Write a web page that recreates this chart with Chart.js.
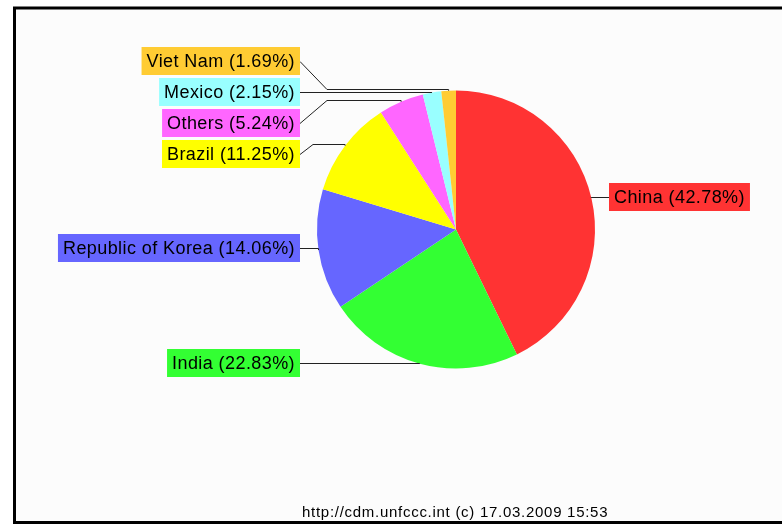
<!DOCTYPE html>
<html>
<head>
<meta charset="utf-8">
<script src="https://cdn.jsdelivr.net/npm/chart.js@4/dist/chart.umd.min.js"></script>
<style>
  html, body { margin: 0; padding: 0; background: #ffffff; }
  #wrap { width: 782px; height: 526px; }
</style>
</head>
<body>
<div id="wrap"><canvas id="c" width="782" height="526"></canvas></div>
<script>
// ---- Data ----
const categories = ["China", "India", "Republic of Korea", "Brazil", "Others", "Mexico", "Viet Nam"];
const shares = [42.78, 22.83, 14.06, 11.25, 5.24, 2.15, 1.69];
const sliceColors = ["#ff3333", "#33ff33", "#6666ff", "#ffff00", "#ff66ff", "#99ffff", "#ffcc33"];
const footerText = "http://cdm.unfccc.int (c) 17.03.2009 15:53";

// ---- Label layout (positions only) ----
// side: which side the box sits; y: box centre; elbowX: x of the bend (null = straight); mode: anchor rule
const labelLayout = [
  { side: "right", y: 197, elbowX: null, mode: "level" },
  { side: "left",  y: 363, elbowX: null, mode: "mid" },
  { side: "left",  y: 248, elbowX: null, mode: "mid" },
  { side: "left",  y: 154, elbowX: 313,  mode: "mid" },
  { side: "left",  y: 123, elbowX: 327,  mode: "mid" },
  { side: "left",  y: 92,  elbowX: null, mode: "mid" },
  { side: "left",  y: 61,  elbowX: 327,  mode: "mid" }
];
const LEFT_EDGE = 300, RIGHT_EDGE = 609;

const framePlugin = {
  id: "frame",
  beforeDraw(chart) {
    const ctx = chart.ctx;
    ctx.save();
    ctx.fillStyle = "#ffffff";
    ctx.fillRect(0, 0, chart.width, chart.height);
    ctx.fillStyle = "#fcfcfc";
    ctx.fillRect(14.5, 8, 800, 514.5);
    ctx.strokeStyle = "#000000";
    ctx.lineWidth = 3;
    ctx.strokeRect(14.5, 8, 800, 514.5);
    ctx.restore();
  },
  afterDraw(chart) {
    const ctx = chart.ctx;
    const meta = chart.getDatasetMeta(0);
    ctx.save();
    ctx.font = "18px 'Liberation Sans', Arial, sans-serif";
    ctx.letterSpacing = "0.42px";
    ctx.textBaseline = "middle";
    meta.data.forEach((arc, i) => {
      const L = labelLayout[i];
      const r = arc.outerRadius;
      let ax, ay;
      if (L.mode === "level") {
        const dy = L.y - arc.y;
        ay = L.y;
        ax = arc.x + (L.side === "right" ? 1 : -1) * Math.sqrt(Math.max(r * r - dy * dy, 0));
      } else {
        const mid = (arc.startAngle + arc.endAngle) / 2;
        ax = arc.x + r * Math.cos(mid);
        ay = arc.y + r * Math.sin(mid);
      }
      const text = categories[i] + " (" + shares[i].toFixed(2) + "%)";
      const tw = ctx.measureText(text).width;
      const pad = 5, h = 28;
      let bx;
      if (L.side === "left") bx = LEFT_EDGE - tw - 2 * pad; else bx = RIGHT_EDGE;
      const edgeX = L.side === "left" ? LEFT_EDGE : RIGHT_EDGE;

      // connector line
      ctx.strokeStyle = "#222222";
      ctx.lineWidth = 1;
      ctx.beginPath();
      ctx.moveTo(edgeX, L.y + 0.5);
      if (L.elbowX !== null) {
        const ly = Math.round(ay) - 1.5;
        ctx.lineTo(L.elbowX, ly);
        ctx.lineTo(ax, ly);
        ctx.lineTo(ax, ay);
      } else {
        ctx.lineTo(ax, L.y + 0.5);
        ctx.lineTo(ax, ay);
      }
      ctx.stroke();

      // label box
      ctx.fillStyle = sliceColors[i];
      ctx.fillRect(bx, L.y - h / 2, tw + 2 * pad, h);
      ctx.fillStyle = "#000000";
      ctx.textAlign = "left";
      ctx.fillText(text, bx + pad, L.y + 1);
    });
    // footer
    ctx.font = "15px 'Liberation Sans', Arial, sans-serif";
    ctx.letterSpacing = "0.72px";
    ctx.textAlign = "left";
    ctx.fillStyle = "#000000";
    ctx.fillText(footerText, 302, 513);
    ctx.restore();
  }
};

new Chart(document.getElementById("c"), {
  type: "pie",
  data: {
    labels: categories,
    datasets: [{
      data: shares,
      backgroundColor: sliceColors,
      borderWidth: 0,
      hoverOffset: 0
    }]
  },
  options: {
    responsive: false,
    animation: false,
    layout: { padding: { top: 90, bottom: 157, left: 317, right: 187 } },
    plugins: { legend: { display: false }, tooltip: { enabled: false } }
  },
  plugins: [framePlugin]
});
</script>
</body>
</html>
